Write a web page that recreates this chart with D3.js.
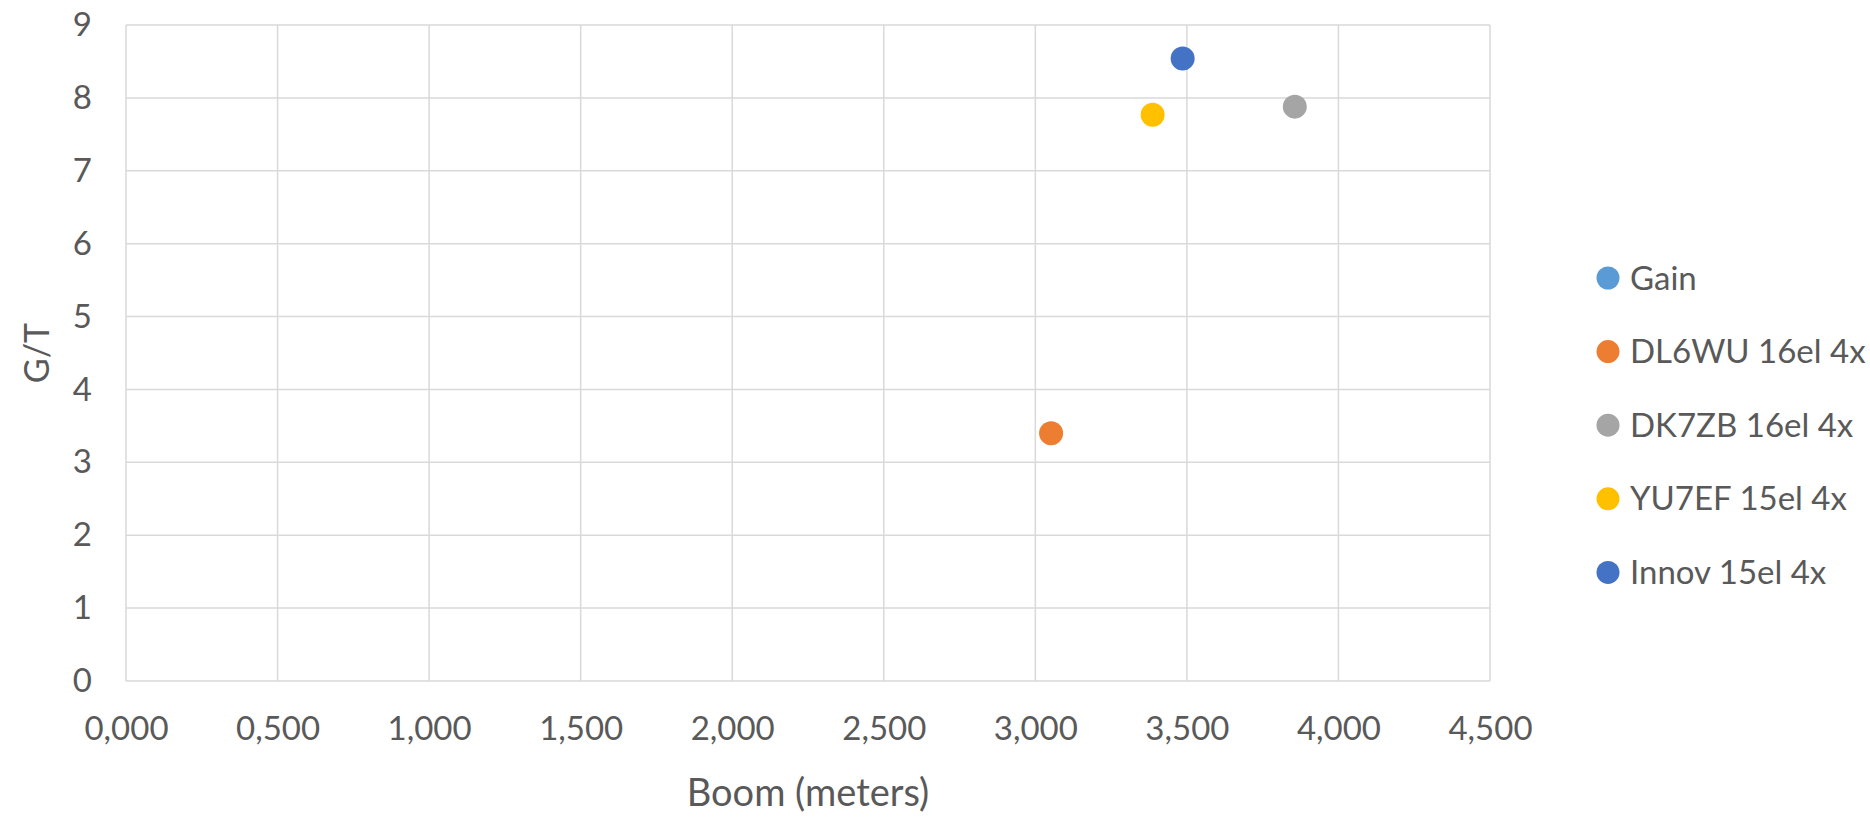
<!DOCTYPE html>
<html>
<head>
<meta charset="utf-8">
<script src="https://cdn.jsdelivr.net/npm/d3@7/dist/d3.min.js"></script>
<style>
  html, body { margin: 0; padding: 0; background: #fff; }
  svg { display: block; }
  text { font-family: Lato, "Open Sans", sans-serif; fill: #595959; }
</style>
</head>
<body>
<svg id="chart" width="1870" height="818"></svg>
<script>
// Series shown in the legend (Gain has no points)
const seriesNames = ["Gain", "DL6WU 16el 4x", "DK7ZB 16el 4x", "YU7EF 15el 4x", "Innov 15el 4x"];
const seriesColors = ["#5B9BD5", "#ED7D31", "#A5A5A5", "#FFC000", "#4472C4"];
// Boom length (m) and G/T for each antenna array
const boomValues = [null, 3.052, 3.856, 3.387, 3.486];
const gtValues = [null, 3.40, 7.88, 7.77, 8.54];

const xTicks = [0, 0.5, 1, 1.5, 2, 2.5, 3, 3.5, 4, 4.5];
const yTicks = [0, 1, 2, 3, 4, 5, 6, 7, 8, 9];

const svg = d3.select("#chart");
const margin = { left: 126, top: 25, right: 1490, bottom: 681 };

const x = d3.scaleLinear().domain([0, 4.5]).range([margin.left, margin.right]);
const y = d3.scaleLinear().domain([0, 9]).range([margin.bottom, margin.top]);

const fmtX = v => d3.format(".3f")(v).replace(".", ",");

// Gridlines
const grid = svg.append("g");
grid.selectAll("line.v").data(xTicks).join("line")
  .attr("x1", d => x(d)).attr("x2", d => x(d))
  .attr("y1", margin.top).attr("y2", margin.bottom)
  .attr("stroke", "#d9d9d9").attr("stroke-width", 1.5);
grid.selectAll("line.h").data(yTicks).join("line")
  .attr("x1", margin.left).attr("x2", margin.right)
  .attr("y1", d => y(d)).attr("y2", d => y(d))
  .attr("stroke", "#d9d9d9").attr("stroke-width", 1.5);

// Axes (labels only; gridlines drawn above)
const xAxis = svg.append("g")
  .attr("transform", `translate(0,${margin.bottom})`)
  .call(d3.axisBottom(x).tickValues(xTicks).tickFormat(fmtX).tickSize(0).tickPadding(36));
xAxis.select(".domain").remove();
xAxis.selectAll("text").attr("font-size", 33).attr("fill", "#595959")
  .style("font-family", "Lato, 'Open Sans', sans-serif");

const yAxis = svg.append("g")
  .attr("transform", `translate(${margin.left},0)`)
  .call(d3.axisLeft(y).tickValues(yTicks).tickFormat(d3.format("d")).tickSize(0).tickPadding(34));
yAxis.select(".domain").remove();
yAxis.selectAll("text").attr("font-size", 33).attr("fill", "#595959")
  .style("font-family", "Lato, 'Open Sans', sans-serif");

// Axis titles
svg.append("text")
  .attr("x", 808).attr("y", 806)
  .attr("text-anchor", "middle").attr("font-size", 38)
  .text("Boom (meters)");
svg.append("text")
  .attr("transform", `translate(49,${(margin.top + margin.bottom) / 2}) rotate(-90)`)
  .attr("text-anchor", "middle").attr("font-size", 34)
  .text("G/T");

// Points
const points = seriesNames.map((name, i) => ({ name, color: seriesColors[i], bx: boomValues[i], gt: gtValues[i] }))
  .filter(d => d.bx != null && d.gt != null);
svg.append("g").selectAll("circle").data(points).join("circle")
  .attr("cx", d => x(d.bx)).attr("cy", d => y(d.gt))
  .attr("r", 12).attr("fill", d => d.color);

// Legend
const legend = svg.append("g").attr("transform", "translate(1608,278)");
const item = legend.selectAll("g").data(seriesNames).join("g")
  .attr("transform", (d, i) => `translate(0,${i * 73.6})`);
item.append("circle").attr("r", 11.5).attr("fill", (d, i) => seriesColors[i]);
item.append("text").attr("x", 22).attr("dy", "0.35em").attr("font-size", 33).text(d => d);
</script>
</body>
</html>
